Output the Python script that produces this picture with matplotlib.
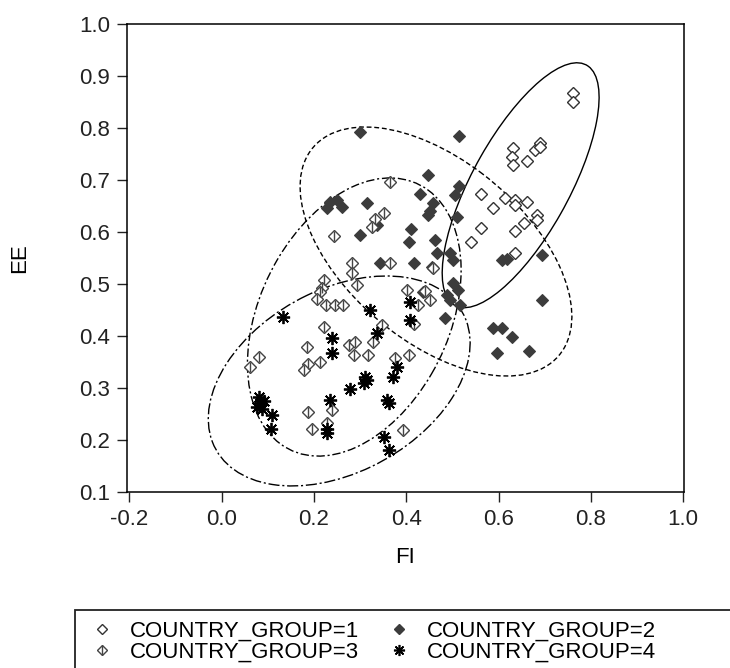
import numpy as np
import matplotlib
matplotlib.use("Agg")
import matplotlib.pyplot as plt
from matplotlib.patches import Ellipse, Rectangle
from matplotlib.lines import Line2D
from matplotlib.legend_handler import HandlerTuple

plt.rcParams['font.family'] = ['Liberation Sans', 'DejaVu Sans']

# 점 데이터 (FI, EE) - 그림에서 읽은 값
g1_fi = [0.762, 0.762, 0.632, 0.630, 0.632, 0.661, 0.679, 0.689, 0.690, 0.562, 0.589,
         0.614, 0.636, 0.636, 0.661, 0.683, 0.683, 0.656, 0.636, 0.562, 0.541, 0.636]
g1_ee = [0.868, 0.851, 0.762, 0.745, 0.729, 0.737, 0.758, 0.772, 0.763, 0.674, 0.646,
         0.665, 0.662, 0.652, 0.658, 0.633, 0.623, 0.617, 0.601, 0.607, 0.580, 0.559]

g2_fi = [0.300, 0.515, 0.448, 0.430, 0.515, 0.506, 0.235, 0.250, 0.228, 0.260, 0.315,
         0.300, 0.336, 0.405, 0.448, 0.459, 0.510, 0.463, 0.344, 0.416, 0.466, 0.495,
         0.502, 0.456, 0.607, 0.618, 0.694, 0.437, 0.502, 0.513, 0.489, 0.495, 0.517,
         0.484, 0.694, 0.589, 0.607, 0.629, 0.596, 0.667, 0.410, 0.452]
g2_ee = [0.793, 0.785, 0.710, 0.674, 0.688, 0.671, 0.658, 0.662, 0.646, 0.648, 0.655,
         0.594, 0.613, 0.581, 0.633, 0.655, 0.629, 0.585, 0.540, 0.540, 0.560, 0.559,
         0.546, 0.533, 0.546, 0.549, 0.556, 0.485, 0.501, 0.488, 0.479, 0.469, 0.460,
         0.434, 0.469, 0.415, 0.415, 0.399, 0.368, 0.372, 0.606, 0.640]

g3_fi = [0.365, 0.351, 0.333, 0.326, 0.243, 0.365, 0.282, 0.282, 0.293, 0.221, 0.217,
         0.401, 0.214, 0.206, 0.227, 0.245, 0.264, 0.221, 0.185, 0.275, 0.290, 0.286,
         0.318, 0.329, 0.347, 0.188, 0.178, 0.214, 0.376, 0.405, 0.080, 0.062, 0.188,
         0.239, 0.196, 0.228, 0.394, 0.452, 0.426, 0.416, 0.459, 0.440]
g3_ee = [0.697, 0.636, 0.626, 0.610, 0.592, 0.540, 0.540, 0.521, 0.498, 0.508, 0.492,
         0.488, 0.485, 0.472, 0.460, 0.460, 0.460, 0.418, 0.379, 0.383, 0.389, 0.363,
         0.363, 0.389, 0.421, 0.347, 0.335, 0.350, 0.357, 0.363, 0.360, 0.341, 0.254,
         0.258, 0.222, 0.233, 0.219, 0.469, 0.460, 0.424, 0.530, 0.487]

g4_fi = [0.134, 0.322, 0.336, 0.239, 0.239, 0.409, 0.409, 0.380, 0.372, 0.311, 0.308,
         0.279, 0.358, 0.362, 0.080, 0.084, 0.077, 0.092, 0.088, 0.109, 0.107, 0.235,
         0.228, 0.228, 0.351, 0.362, 0.316]
g4_ee = [0.436, 0.450, 0.405, 0.396, 0.367, 0.466, 0.431, 0.341, 0.322, 0.322, 0.309,
         0.299, 0.277, 0.272, 0.283, 0.271, 0.264, 0.275, 0.260, 0.248, 0.221, 0.277,
         0.222, 0.213, 0.206, 0.181, 0.316]

# 그룹별 타원 (중심, x 반폭, y 반폭, 상관)
ell_cx = [0.648, 0.4645, 0.2875, 0.2548]
ell_cy = [0.690, 0.5625, 0.4365, 0.3135]
ell_sx = [0.170, 0.2945, 0.2315, 0.2837]
ell_sy = [0.2355, 0.2395, 0.2675, 0.2019]
ell_r = [0.718, -0.521, 0.335, 0.36]

labels = ["COUNTRY_GROUP=1", "COUNTRY_GROUP=2", "COUNTRY_GROUP=3", "COUNTRY_GROUP=4"]
styles = ['-', (0, (3.5, 2)), (0, (6, 2, 1.5, 2)), (0, (8, 2, 1.5, 2))]

fig = plt.figure(figsize=(7.3, 6.68), dpi=100)
ax = fig.add_axes([0.174, 0.2635, 0.763, 0.7005])

dark = '#333333'
ax.plot(g1_fi, g1_ee, 'D', ms=6, mfc='white', mec=dark, mew=1.0, ls='none')
ax.plot(g2_fi, g2_ee, 'D', ms=6.5, mfc='#3c3c3c', mec='#3c3c3c', mew=0.8, ls='none')
ax.plot(g3_fi, g3_ee, 'D', ms=6, mfc='white', mec='#444444', mew=1.0, ls='none')
ax.plot(g3_fi, g3_ee, '|', ms=7.5, mec='#444444', mew=1.0, ls='none')
ax.plot(g4_fi, g4_ee, marker=(8, 2, 0), ms=9.5, mec='black', mew=1.3, ls='none')

# 타원 그리기
for i in range(4):
    cov = np.array([[ell_sx[i] ** 2, ell_r[i] * ell_sx[i] * ell_sy[i]],
                    [ell_r[i] * ell_sx[i] * ell_sy[i], ell_sy[i] ** 2]])
    vals, vecs = np.linalg.eigh(cov)
    ang = np.degrees(np.arctan2(vecs[1, 1], vecs[0, 1]))
    e = Ellipse((ell_cx[i], ell_cy[i]), 2 * np.sqrt(vals[1]), 2 * np.sqrt(vals[0]),
                angle=ang, fill=False, ec='black', lw=1.0, ls=styles[i])
    ax.add_patch(e)

ax.set_xlim(-0.205, 1.002)
ax.set_ylim(0.1, 1.0)
ax.set_xticks([-0.2, 0.0, 0.2, 0.4, 0.6, 0.8, 1.0])
ax.set_yticks(np.arange(0.1, 1.01, 0.1))
ax.xaxis.set_major_formatter(matplotlib.ticker.FormatStrFormatter('%.1f'))
ax.yaxis.set_major_formatter(matplotlib.ticker.FormatStrFormatter('%.1f'))
ax.tick_params(direction='out', length=7, width=1.0, pad=5, labelsize=16, colors='#222222')
for s in ax.spines.values():
    s.set_linewidth(1.1)

ax.set_xlabel("FI", fontsize=16)
ax.set_ylabel("EE", fontsize=16)
ax.xaxis.set_label_coords(0.499, -0.118)
ax.yaxis.set_label_coords(-0.174, 0.5)

# 범례
h1 = Line2D([], [], marker='D', ms=5, mfc='white', mec=dark, ls='none')
h2 = Line2D([], [], marker='D', ms=5.5, mfc='#3c3c3c', mec='#3c3c3c', ls='none')
h3a = Line2D([], [], marker='D', ms=5, mfc='white', mec='#444444', ls='none')
h3b = Line2D([], [], marker='|', ms=6.5, mec='#444444', ls='none')
h4 = Line2D([], [], marker=(8, 2, 0), ms=8, mec='black', mew=1.2, ls='none')
fig.legend([h1, (h3a, h3b), h2, h4], [labels[0], labels[2], labels[1], labels[3]],
           loc='upper left', bbox_to_anchor=(75 / 730, 1 - 616 / 668), ncol=2,
           frameon=False, fontsize=16, borderpad=0.2, borderaxespad=0,
           handlelength=2.0, handletextpad=0.25, columnspacing=0.8, labelspacing=0.02,
           handler_map={tuple: HandlerTuple(ndivide=1, pad=0)})
fig.patches.append(Rectangle((75 / 730, -0.1), 0.95, 1 - 610 / 668 + 0.1,
                             transform=fig.transFigure, fill=False, ec='#222222', lw=1.3))

fig.savefig("out.png", dpi=100)
